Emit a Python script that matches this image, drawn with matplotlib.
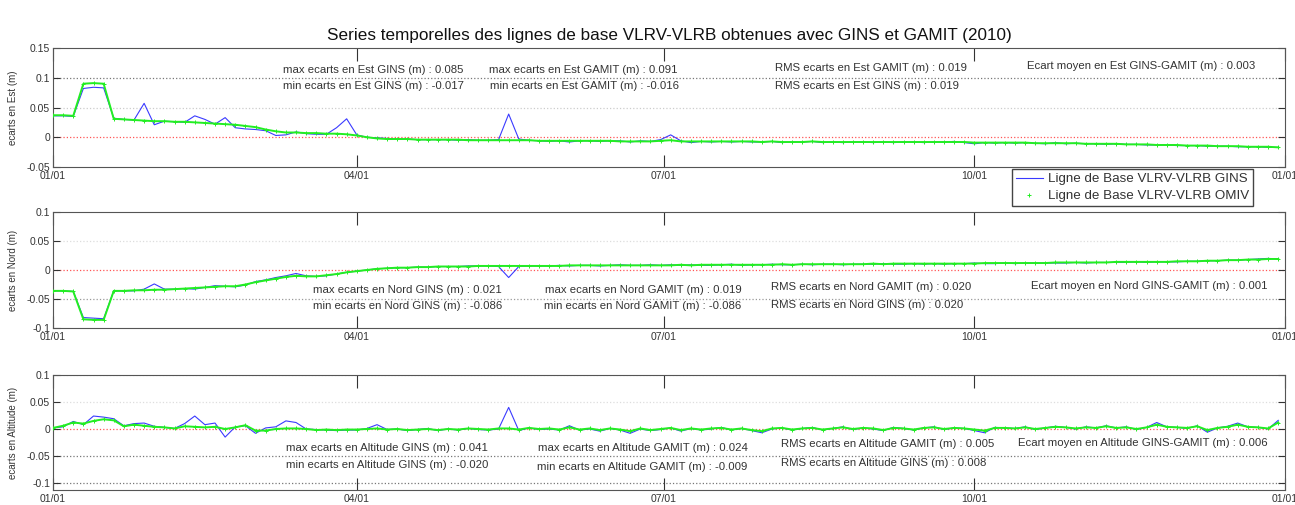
import numpy as np
import matplotlib
matplotlib.use("Agg")
import matplotlib.pyplot as plt

plt.rcParams['font.family'] = ['Liberation Sans', 'DejaVu Sans']

# Data: daily baseline offsets (m), sampled every 3 days through 2010
days = np.arange(0, 366, 3)

est_gins = [0.036, 0.036, 0.035, 0.082, 0.084, 0.083, 0.032, 0.030, 0.029, 0.057,
            0.021, 0.027, 0.026, 0.025, 0.036, 0.030, 0.022, 0.033, 0.016, 0.014,
            0.013, 0.011, 0.003, 0.004, 0.009, 0.006, 0.005, 0.005, 0.016, 0.031,
            0.004, 0.000, -0.001, -0.002, -0.003, -0.003, -0.004, -0.004, -0.004, -0.004,
            -0.005, -0.004, -0.005, -0.005, -0.004, 0.039, -0.003, -0.005, -0.006, -0.007,
            -0.006, -0.008, -0.006, -0.006, -0.007, -0.006, -0.006, -0.008, -0.006, -0.007,
            -0.004, 0.004, -0.006, -0.009, -0.007, -0.008, -0.007, -0.008, -0.007, -0.008,
            -0.008, -0.007, -0.009, -0.008, -0.008, -0.007, -0.009, -0.008, -0.009, -0.008,
            -0.008, -0.009, -0.008, -0.009, -0.008, -0.008, -0.009, -0.008, -0.008, -0.007,
            -0.009, -0.011, -0.009, -0.010, -0.009, -0.010, -0.009, -0.010, -0.011, -0.009,
            -0.011, -0.010, -0.011, -0.011, -0.012, -0.011, -0.012, -0.012, -0.013, -0.013,
            -0.013, -0.014, -0.014, -0.014, -0.015, -0.015, -0.015, -0.016, -0.016, -0.016,
            -0.017, -0.017]
est_omiv = [0.037, 0.037, 0.036, 0.090, 0.091, 0.090, 0.031, 0.030, 0.029, 0.028,
            0.027, 0.027, 0.026, 0.026, 0.025, 0.024, 0.023, 0.022, 0.021, 0.019,
            0.017, 0.013, 0.010, 0.008, 0.008, 0.007, 0.007, 0.006, 0.006, 0.005,
            0.003, 0.000, -0.002, -0.003, -0.003, -0.003, -0.004, -0.004, -0.004, -0.004,
            -0.004, -0.005, -0.005, -0.005, -0.005, -0.005, -0.005, -0.005, -0.006, -0.006,
            -0.006, -0.006, -0.006, -0.006, -0.006, -0.006, -0.007, -0.007, -0.007, -0.007,
            -0.006, -0.005, -0.007, -0.007, -0.007, -0.007, -0.007, -0.007, -0.007, -0.007,
            -0.008, -0.007, -0.008, -0.008, -0.008, -0.007, -0.008, -0.008, -0.008, -0.008,
            -0.008, -0.008, -0.008, -0.008, -0.008, -0.008, -0.008, -0.008, -0.008, -0.008,
            -0.008, -0.009, -0.009, -0.009, -0.009, -0.009, -0.009, -0.010, -0.010, -0.010,
            -0.010, -0.010, -0.011, -0.011, -0.011, -0.011, -0.012, -0.012, -0.012, -0.013,
            -0.013, -0.013, -0.014, -0.014, -0.014, -0.015, -0.015, -0.015, -0.016, -0.016,
            -0.016, -0.017]

nord_gins = [-0.036, -0.036, -0.037, -0.082, -0.083, -0.084, -0.036, -0.036, -0.036, -0.033,
             -0.024, -0.033, -0.033, -0.032, -0.033, -0.030, -0.027, -0.028, -0.029, -0.026,
             -0.020, -0.017, -0.013, -0.010, -0.006, -0.010, -0.011, -0.010, -0.007, -0.004,
             -0.002, 0.000, 0.002, 0.003, 0.004, 0.004, 0.005, 0.005, 0.006, 0.006,
             0.006, 0.007, 0.007, 0.007, 0.006, -0.013, 0.006, 0.007, 0.007, 0.007,
             0.008, 0.007, 0.008, 0.008, 0.007, 0.008, 0.009, 0.008, 0.008, 0.009,
             0.008, 0.009, 0.008, 0.009, 0.008, 0.008, 0.009, 0.010, 0.008, 0.009,
             0.009, 0.010, 0.009, 0.009, 0.010, 0.009, 0.010, 0.010, 0.009, 0.010,
             0.010, 0.010, 0.011, 0.010, 0.010, 0.011, 0.010, 0.011, 0.010, 0.011,
             0.011, 0.012, 0.011, 0.011, 0.012, 0.011, 0.012, 0.012, 0.012, 0.012,
             0.012, 0.013, 0.012, 0.013, 0.013, 0.013, 0.013, 0.014, 0.013, 0.014,
             0.014, 0.014, 0.015, 0.015, 0.016, 0.016, 0.017, 0.017, 0.018, 0.019,
             0.020, 0.019]
nord_omiv = [-0.036, -0.036, -0.037, -0.085, -0.086, -0.086, -0.036, -0.036, -0.035, -0.035,
             -0.034, -0.034, -0.033, -0.032, -0.031, -0.030, -0.029, -0.028, -0.028, -0.025,
             -0.021, -0.018, -0.015, -0.012, -0.010, -0.011, -0.011, -0.009, -0.007, -0.004,
             -0.002, 0.000, 0.002, 0.003, 0.004, 0.004, 0.005, 0.005, 0.006, 0.006,
             0.006, 0.006, 0.007, 0.007, 0.007, 0.007, 0.007, 0.007, 0.007, 0.007,
             0.007, 0.008, 0.008, 0.008, 0.008, 0.008, 0.008, 0.008, 0.008, 0.008,
             0.008, 0.008, 0.009, 0.008, 0.009, 0.009, 0.009, 0.009, 0.009, 0.009,
             0.009, 0.009, 0.010, 0.009, 0.010, 0.010, 0.010, 0.010, 0.010, 0.010,
             0.010, 0.011, 0.010, 0.011, 0.011, 0.011, 0.011, 0.011, 0.011, 0.011,
             0.011, 0.011, 0.012, 0.012, 0.012, 0.012, 0.012, 0.012, 0.012, 0.013,
             0.013, 0.013, 0.013, 0.013, 0.013, 0.014, 0.014, 0.014, 0.014, 0.014,
             0.014, 0.015, 0.015, 0.015, 0.016, 0.016, 0.017, 0.017, 0.018, 0.018,
             0.019, 0.019]

alt_gins = [0.002, 0.004, 0.014, 0.008, 0.024, 0.022, 0.019, 0.006, 0.010, 0.011,
            0.005, 0.003, 0.001, 0.010, 0.024, 0.008, 0.011, -0.015, 0.004, 0.006,
            -0.008, 0.002, 0.004, 0.015, 0.012, 0.000, -0.001, -0.002, -0.003, -0.002,
            -0.002, 0.001, 0.008, -0.001, 0.000, -0.003, -0.001, 0.001, -0.003, 0.000,
            -0.002, 0.001, -0.001, -0.002, 0.000, 0.040, -0.003, 0.002, -0.001, 0.000,
            -0.002, 0.006, -0.002, 0.000, -0.004, 0.001, -0.002, -0.008, 0.000, -0.003,
            -0.001, 0.002, -0.004, 0.001, -0.002, 0.000, 0.003, -0.002, 0.001, -0.003,
            -0.007, 0.000, 0.002, -0.002, 0.001, 0.003, -0.002, 0.001, 0.004, -0.001,
            0.002, 0.000, -0.003, 0.003, 0.001, -0.002, 0.002, 0.004, -0.001, 0.002,
            0.001, -0.003, -0.007, 0.003, 0.002, 0.001, 0.004, -0.001, 0.002, 0.005,
            0.003, 0.000, 0.004, 0.002, 0.006, 0.002, 0.004, -0.001, 0.003, 0.012,
            0.004, 0.003, 0.001, 0.006, -0.006, 0.002, 0.005, 0.011, 0.004, 0.003,
            0.000, 0.016]
alt_omiv = [0.002, 0.006, 0.012, 0.010, 0.015, 0.018, 0.016, 0.005, 0.008, 0.006,
            0.004, 0.003, 0.001, 0.005, 0.004, 0.003, 0.004, 0.000, 0.003, 0.007,
            -0.003, -0.003, 0.000, 0.001, 0.001, 0.000, -0.002, -0.001, -0.002, -0.001,
            -0.001, 0.000, 0.001, -0.001, 0.000, -0.002, -0.001, 0.000, -0.002, 0.000,
            -0.001, 0.001, 0.000, -0.001, 0.001, 0.001, -0.001, 0.002, 0.000, 0.001,
            -0.001, 0.003, -0.001, 0.001, -0.002, 0.001, -0.001, -0.004, 0.001, -0.002,
            0.000, 0.002, -0.002, 0.001, -0.001, 0.001, 0.002, -0.001, 0.001, -0.002,
            -0.004, 0.001, 0.002, -0.001, 0.001, 0.002, -0.001, 0.001, 0.003, 0.000,
            0.002, 0.001, -0.002, 0.002, 0.001, -0.001, 0.002, 0.003, 0.000, 0.002,
            0.001, -0.001, -0.003, 0.002, 0.002, 0.001, 0.003, 0.000, 0.002, 0.004,
            0.003, 0.001, 0.003, 0.002, 0.005, 0.002, 0.003, 0.000, 0.003, 0.008,
            0.004, 0.003, 0.002, 0.005, -0.002, 0.002, 0.004, 0.008, 0.004, 0.003,
            0.001, 0.012]

month_ticks = [0, 90, 181, 273, 365]
month_labels = ["01/01", "04/01", "07/01", "10/01", "01/01"]

ylabels = ["ecarts en Est (m)", "ecarts en Nord (m)", "ecarts en Altitude (m)"]
yticks = [[-0.05, 0, 0.05, 0.1, 0.15], [-0.1, -0.05, 0, 0.05, 0.1], [-0.1, -0.05, 0, 0.05, 0.1]]
yticklabels = [["-0.05", "0", "0.05", "0.1", "0.15"], ["-0.1", "-0.05", "0", "0.05", "0.1"],
               ["-0.1", "-0.05", "0", "0.05", "0.1"]]
ylims = [(-0.05, 0.15), (-0.1, 0.1), (-0.113, 0.1)]

# annotation texts: (text, x px, y px)
stats = [
    ("max ecarts en Est GINS (m) : 0.085", 283, 70), ("min ecarts en Est GINS (m) : -0.017", 283, 86),
    ("max ecarts en Est GAMIT (m) : 0.091", 489, 70), ("min ecarts en Est GAMIT (m) : -0.016", 490, 86),
    ("RMS ecarts en Est GAMIT (m) : 0.019", 775, 68), ("RMS ecarts en Est GINS (m) : 0.019", 775, 86),
    ("Ecart moyen en Est GINS-GAMIT (m) : 0.003", 1027, 66),
    ("max ecarts en Nord GINS (m) : 0.021", 313, 290), ("min ecarts en Nord GINS (m) : -0.086", 313, 306),
    ("max ecarts en Nord GAMIT (m) : 0.019", 545, 290), ("min ecarts en Nord GAMIT (m) : -0.086", 544, 306),
    ("RMS ecarts en Nord GAMIT (m) : 0.020", 771, 287), ("RMS ecarts en Nord GINS (m) : 0.020", 771, 305),
    ("Ecart moyen en Nord GINS-GAMIT (m) : 0.001", 1031, 286),
    ("max ecarts en Altitude GINS (m) : 0.041", 286, 448), ("min ecarts en Altitude GINS (m) : -0.020", 286, 465),
    ("max ecarts en Altitude GAMIT (m) : 0.024", 538, 448), ("min ecarts en Altitude GAMIT (m) : -0.009", 537, 467),
    ("RMS ecarts en Altitude GAMIT (m) : 0.005", 781, 444), ("RMS ecarts en Altitude GINS (m) : 0.008", 781, 463),
    ("Ecart moyen en Altitude GINS-GAMIT (m) : 0.006", 1018, 443),
]

W, H = 1295, 505
fig = plt.figure(figsize=(W / 100, H / 100), dpi=100)

# axes boxes in pixels: (top, bottom)
boxes = [(48, 167), (212, 328), (375, 490)]
left, right = 53, 1285
gins_series = [est_gins, nord_gins, alt_gins]
omiv_series = [est_omiv, nord_omiv, alt_omiv]
reflines = [
    [(0.1, "#777777"), (0.05, "#cccccc"), (0, "#ff5555")],
    [(-0.05, "#999999"), (0.05, "#dddddd"), (0, "#ff5555")],
    [(-0.05, "#777777"), (-0.1, "#777777"), (0.05, "#dddddd"), (0.1, "#dddddd"), (0, "#ff5555")],
]

axes = []
for i in range(3):
    top, bot = boxes[i]
    ax = fig.add_axes([left / W, 1 - bot / H, (right - left) / W, (bot - top) / H])
    for y, c in reflines[i]:
        ax.axhline(y, color=c, ls=":", lw=0.9, zorder=1)
    l1, = ax.plot(days, gins_series[i], color="#3a3aff", lw=0.8, zorder=2)
    ax.plot(days, omiv_series[i], color="#22ee22", lw=1.4, zorder=3)
    l2, = ax.plot(days, omiv_series[i], color="#22ee22", ls="none", marker="+", ms=3, mew=0.7, zorder=3)
    ax.set_xlim(0, 365)
    ax.set_ylim(*ylims[i])
    ax.set_xticks(month_ticks)
    ax.set_xticklabels(month_labels)
    ax.set_yticks(yticks[i])
    ax.set_yticklabels(yticklabels[i])
    ax.tick_params(direction="in", top=True, right=True, labelsize=7.5, colors="#333333",
                   length=9, width=0.8, pad=2)
    ax.tick_params(axis="x", pad=3)
    ax.tick_params(axis="y", length=5)
    ax.set_ylabel(ylabels[i], fontsize=7, color="#333333", labelpad=6)
    for s in ax.spines.values():
        s.set_color("#555555")
        s.set_linewidth(0.8)
    axes.append(ax)

axes[0].set_title("Series temporelles des lignes de base VLRV-VLRB obtenues avec GINS et GAMIT (2010)",
                  fontsize=12.3, color="#111111", pad=6)

for txt, x, y in stats:
    fig.text(x / W, 1 - y / H, txt, fontsize=8.2, color="#333333", ha="left", va="center")

leg = fig.legend([l1, l2], ["Ligne de Base VLRV-VLRB GINS", "Ligne de Base VLRV-VLRB OMIV"],
                 loc="upper left", bbox_to_anchor=(1012 / W, 1 - 169 / H), borderaxespad=0,
                 fontsize=9.6, fancybox=False, edgecolor="#444444", framealpha=1,
                 handlelength=2.0, labelspacing=0.35, borderpad=0.3, handletextpad=0.4)
for t in leg.get_texts():
    t.set_color("#333333")

fig.savefig("out.png", dpi=100)
